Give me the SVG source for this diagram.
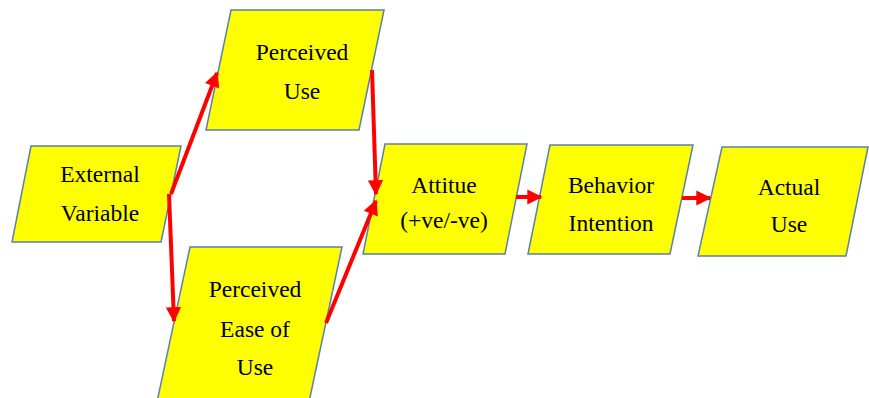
<svg xmlns="http://www.w3.org/2000/svg" width="869" height="398" viewBox="0 0 869 398">
<style>
.n{fill:#ffff00;stroke:#5b80ac;stroke-width:1.5}
.t{font-family:'Liberation Serif','Times New Roman','DejaVu Serif',serif;font-size:23.5px;fill:#000;text-anchor:middle}
.c{stroke:#ff0000;stroke-width:4;fill:none;marker-end:url(#ah)}
</style>
<defs>
<marker id="ah" viewBox="0 0 10 10" refX="9" refY="5" markerWidth="4" markerHeight="3.8" orient="auto" markerUnits="strokeWidth">
<path d="M0,0 L10,5 L0,10 z" fill="#ff0000"/>
</marker>
</defs>
<rect width="869" height="398" fill="#fff"/>
<g id="pu">
<polygon class="n" points="231,10 384,10 359,130 206,130"/>
<text class="t" x="302" y="60">Perceived</text>
<text class="t" x="302" y="99">Use</text>
</g>
<g id="ev">
<polygon class="n" points="31,146 181,146 161,242 12,242"/>
<text class="t" x="100" y="182">External</text>
<text class="t" x="100" y="221">Variable</text>
</g>
<g id="peou">
<polygon class="n" points="190,247 342,247 309,402 157,402"/>
<text class="t" x="255" y="297">Perceived</text>
<text class="t" x="255" y="337">Ease of</text>
<text class="t" x="255" y="375">Use</text>
</g>
<g id="att">
<polygon class="n" points="385,144 527,144 505,254 363,254"/>
<text class="t" x="444" y="193">Attitue</text>
<text class="t" x="444" y="228">(+ve/-ve)</text>
</g>
<g id="bi">
<polygon class="n" points="550,145 693,145 670,254 528,254"/>
<text class="t" x="611" y="193">Behavior</text>
<text class="t" x="611" y="231">Intention</text>
</g>
<g id="au">
<polygon class="n" points="722,147 868,147 846,256 698,256"/>
<text class="t" x="789" y="195">Actual</text>
<text class="t" x="789" y="232">Use</text>
</g>
<g id="connectors">
<line class="c" x1="171" y1="194" x2="217" y2="73"/>
<line class="c" x1="169" y1="194" x2="174" y2="321"/>
<line class="c" x1="372" y1="70" x2="376" y2="194"/>
<line class="c" x1="326" y1="323" x2="376" y2="201"/>
<line class="c" x1="516" y1="197" x2="541" y2="197"/>
<line class="c" x1="682" y1="198" x2="710" y2="198"/>
</g>
</svg>
